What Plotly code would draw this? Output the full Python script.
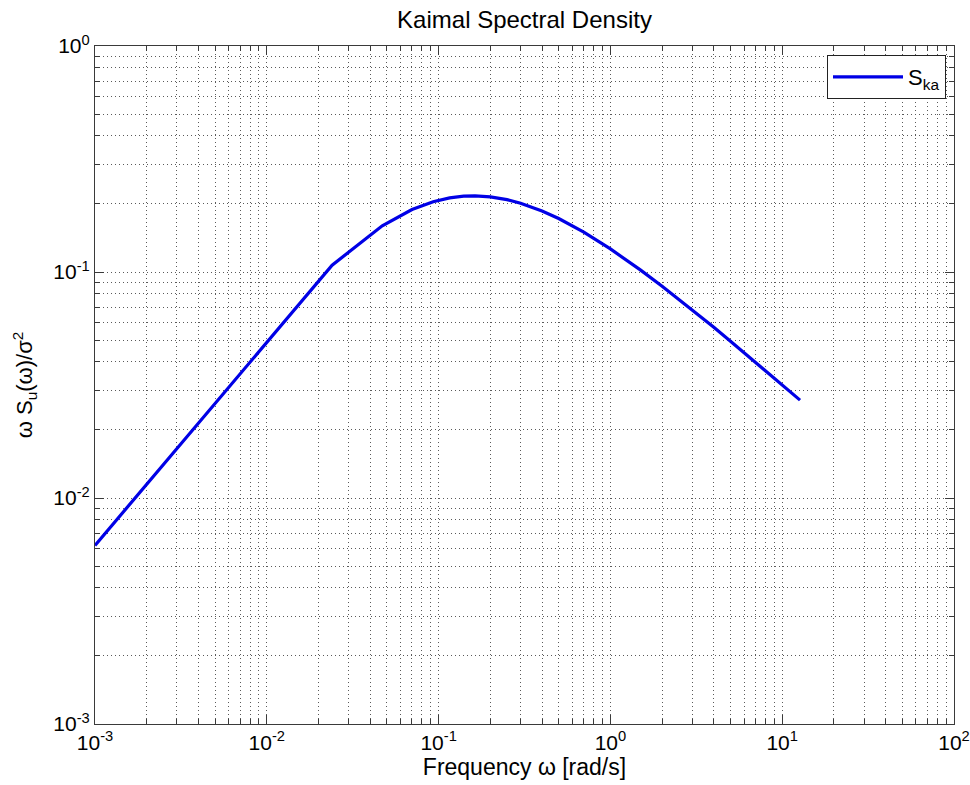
import plotly.graph_objects as go

# Frequency omega [rad/s] and normalized spectral density
omega = [0.001, 0.024, 0.047, 0.07, 0.093, 0.116, 0.14, 0.163, 0.2, 0.25, 0.3,
         0.4, 0.5, 0.7, 1.0, 1.5, 2.0, 3.0, 4.0, 5.0, 7.0, 10.0, 12.7]
s_ka = [0.00617, 0.1072, 0.1602, 0.1890, 0.2047, 0.2128, 0.2165, 0.2173, 0.2151,
        0.2090, 0.2015, 0.1862, 0.1724, 0.1501, 0.1265, 0.1019, 0.0865, 0.0679,
        0.0569, 0.0494, 0.0399, 0.0317, 0.0271]

x_tickvals = [1e-3, 1e-2, 1e-1, 1e0, 1e1, 1e2]
x_ticktext = ["10<sup>-3</sup>", "10<sup>-2</sup>", "10<sup>-1</sup>",
              "10<sup>0</sup>", "10<sup>1</sup>", "10<sup>2</sup>"]
y_tickvals = [1e-3, 1e-2, 1e-1, 1e0]
y_ticktext = ["10<sup>-3</sup>", "10<sup>-2</sup>", "10<sup>-1</sup>", "10<sup>0</sup>"]

FONT = "Liberation Sans, Arial, sans-serif"
GRID = "#5a5a5a"
DASH = "1px,3px"

fig = go.Figure()
fig.add_trace(go.Scatter(
    x=omega, y=s_ka, mode="lines", name="S<sub>ka</sub>",
    line=dict(color="#0000e6", width=3.2),
))

axis_common = dict(
    type="log", automargin=False, ticklabeloverflow="allow",
    showline=True, linecolor="#3a3a3a", linewidth=1.2,
    mirror="allticks", ticks="inside", ticklen=9, tickwidth=1, tickcolor="#3a3a3a",
    showgrid=True, gridcolor=GRID, gridwidth=1, griddash=DASH,
    zeroline=False,
    tickfont=dict(family=FONT, size=21, color="#000"),
    minor=dict(dtick="D1", ticks="inside", ticklen=5, tickcolor="#3a3a3a",
               showgrid=True, gridcolor=GRID, gridwidth=1, griddash=DASH),
)

fig.update_layout(
    width=970, height=785,
    margin=dict(l=95, r=16, t=46, b=61),
    paper_bgcolor="white", plot_bgcolor="white",
    title=dict(text="Kaimal Spectral Density", x=(95 + 954) / 2 / 970, xanchor="center",
               y=1 - 20 / 785, yanchor="middle",
               font=dict(family=FONT, size=24, color="#000")),
    xaxis=dict(**axis_common, range=[-3, 2], tickvals=x_tickvals, ticktext=x_ticktext,
               title=dict(text="Frequency ω [rad/s]", standoff=4,
                          font=dict(family=FONT, size=23, color="#000"))),
    yaxis=dict(**axis_common, range=[-3, 0], tickvals=y_tickvals, ticktext=y_ticktext,
               title=dict(text="ω S<sub>u</sub>(ω)/σ<sup>2</sup>", standoff=14,
                          font=dict(family=FONT, size=22, color="#000"))),
    showlegend=True,
    legend=dict(x=(946 - 95) / 859, xanchor="right", y=(724 - 55) / 678, yanchor="top",
                bgcolor="white", bordercolor="#222", borderwidth=1,
                font=dict(family=FONT, size=22, color="#000"),
                itemwidth=70),
)

fig.write_html("out.html")
